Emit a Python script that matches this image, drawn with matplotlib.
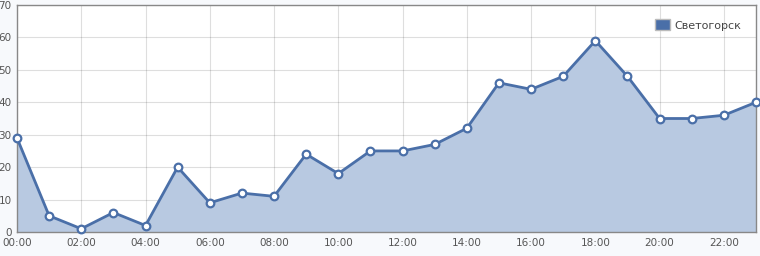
#!/usr/bin/env python3
import matplotlib

matplotlib.use("Agg")
import matplotlib.pyplot as plt
from matplotlib.patches import Patch

HOURS = list(range(24))
VALUES = [29, 5, 1, 6, 2, 20, 9, 12, 11, 24, 18, 25, 25, 27, 32, 46, 44, 48, 59, 48, 35, 35, 36, 40]
SERIES = "Светогорск"
XTICKS = list(range(0, 24, 2))
XLABELS = [f"{h:02d}:00" for h in XTICKS]
YTICKS = list(range(0, 71, 10))

LINE = "#4a6fa8"
FILL = "#b8c9e1"
TEXT = "#555555"


def main() -> None:
    fig = plt.figure(figsize=(7.6, 2.56), dpi=100, facecolor="#f7f9fc")
    ax = fig.add_axes([17 / 760, 24 / 256, 739 / 760, 227 / 256])
    ax.set_facecolor("white")

    ax.fill_between(HOURS, VALUES, 0, color=FILL, zorder=2, linewidth=0)
    ax.plot(HOURS, VALUES, color=LINE, lw=2, zorder=3,
            marker="o", ms=5.5, mfc="white", mec=LINE, mew=1.6, clip_on=False)

    ax.set_xlim(0, 23)
    ax.set_ylim(0, 70)
    ax.set_xticks(XTICKS)
    ax.set_xticklabels(XLABELS)
    ax.set_yticks(YTICKS)
    ax.grid(True, color="#000000", alpha=0.13, lw=0.8, zorder=2.5)
    ax.tick_params(length=0, labelsize=7.5, colors=TEXT, pad=4)
    for sp in ax.spines.values():
        sp.set_color("#888888")
        sp.set_linewidth(1)

    handle = Patch(facecolor=LINE, edgecolor="#bbbbbb", linewidth=1)
    leg = ax.legend([handle], [SERIES], loc="upper right", frameon=False,
                    fontsize=8, handlelength=1.4, handleheight=1.1,
                    handletextpad=0.4, borderaxespad=0.9)
    for t in leg.get_texts():
        t.set_color("#444444")

    fig.savefig("out.png", dpi=100, facecolor=fig.get_facecolor())
    plt.close(fig)


if __name__ == "__main__":
    main()
